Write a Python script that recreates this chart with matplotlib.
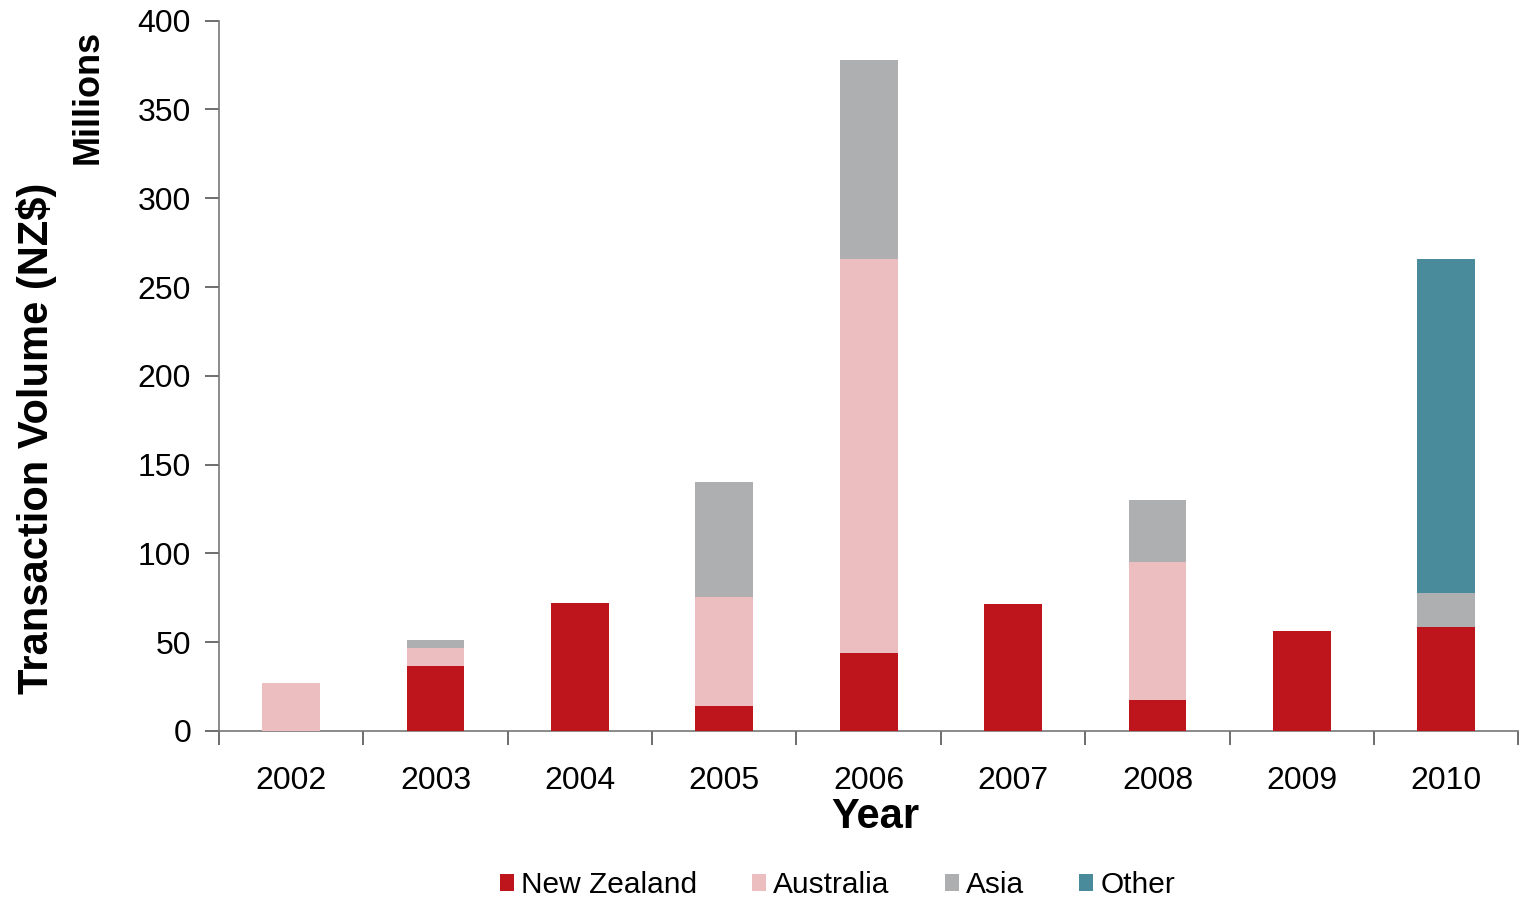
import numpy as np
import matplotlib.pyplot as plt

plt.rcParams['font.family'] = ['Liberation Sans', 'DejaVu Sans']

years = ['2002', '2003', '2004', '2005', '2006', '2007', '2008', '2009', '2010']
new_zealand = [0, 36.5, 72, 14, 44, 71.5, 17.5, 56.5, 58.5]
australia = [27, 10, 0, 61.5, 222, 0, 77.5, 0, 0]
asia = [0, 5, 0, 64.5, 112, 0, 35, 0, 19]
other = [0, 0, 0, 0, 0, 0, 0, 0, 188.5]

series = [('New Zealand', new_zealand, '#be141c'),
          ('Australia', australia, '#ecbec0'),
          ('Asia', asia, '#aeafb1'),
          ('Other', other, '#498b9a')]

fig = plt.figure(figsize=(15.2, 8.98), dpi=100)
ax = fig.add_axes([0.144, 0.186, 0.855, 0.791])

x = np.arange(len(years))
bottom = np.zeros(len(years))
for name, vals, col in series:
    v = np.array(vals, float)
    ax.bar(x, v, width=0.4, bottom=bottom, color=col, label=name, zorder=3)
    bottom += v

ax.set_xlim(-0.5, len(years) - 0.5)
ax.set_ylim(0, 400)
ax.set_yticks(range(0, 401, 50))
# category boundaries get the tick marks, labels sit in between
ax.set_xticks(np.arange(-0.5, len(years), 1.0))
ax.set_xticklabels([])
ax.set_xticks(x, minor=True)
ax.set_xticklabels(years, minor=True)
ax.tick_params(axis='x', which='minor', length=0, pad=25, labelsize=23)
ax.tick_params(axis='x', which='major', length=10, width=1.2, color='#555555')
ax.tick_params(axis='y', length=10, width=1.2, color='#555555', labelsize=23, pad=10)

for s in ['top', 'right']:
    ax.spines[s].set_visible(False)
for s in ['left', 'bottom']:
    ax.spines[s].set_color('#777777')
    ax.spines[s].set_linewidth(1.2)

fig.text(0.5757, 0.090, 'Year', ha='center', va='center', fontsize=30, fontweight='bold')
fig.text(0.0237, 0.512, 'Transaction Volume (NZ$)', rotation=90, ha='center', va='center',
         fontsize=30, fontweight='bold')
fig.text(0.058, 0.892, 'Millions', rotation=90, ha='center', va='center',
         fontsize=26, fontweight='bold')

fig.legend(loc='center', bbox_to_anchor=(0.551, 0.0145), ncol=4, frameon=False,
           fontsize=21.5, handlelength=0.47, handleheight=0.47, handletextpad=0.23,
           columnspacing=1.85, borderaxespad=0, borderpad=0)

fig.savefig('out.png', dpi=100)
